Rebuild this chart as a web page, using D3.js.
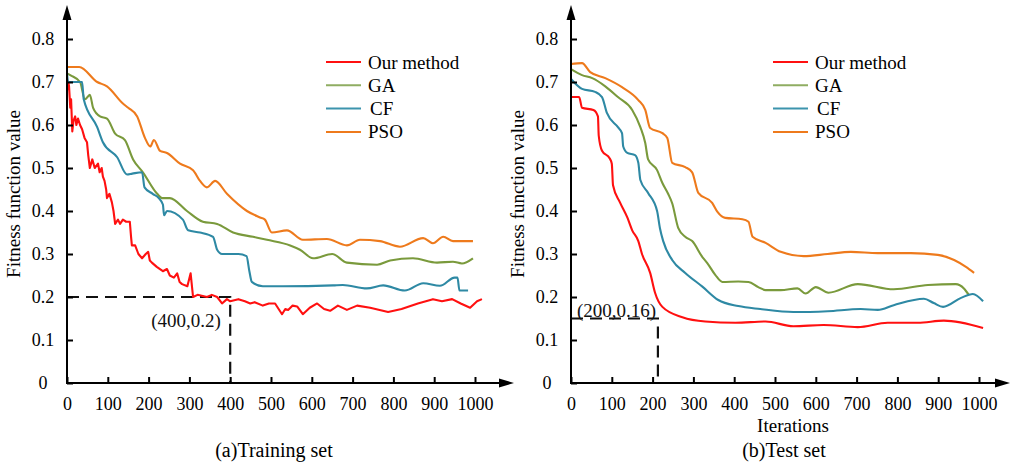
<!DOCTYPE html>
<html><head><meta charset="utf-8">
<script src="https://cdn.jsdelivr.net/npm/d3@7"></script>
<style>
html,body{margin:0;padding:0;background:#fff;}
svg{display:block;font-family:"Liberation Serif","Times New Roman",serif;}
</style></head>
<body>
<svg id="chart" width="1011" height="462"></svg>
<script>
// ---------- DATA ----------
const seriesNames = ["Our method", "GA", "CF", "PSO"];
const xTickValues = [0,100,200,300,400,500,600,700,800,900,1000];
const yTickValues = [0,0.1,0.2,0.3,0.4,0.5,0.6,0.7,0.8];
const yTickLabels = ["0","0.1","0.2","0.3","0.4","0.5","0.6","0.7","0.8"];

const trainOurMethod = [[0,0.68],[3,0.70],[5,0.69],[8,0.64],[10,0.66],[13,0.585],[16,0.61],[20,0.62],[23,0.6],[27,0.615],[32,0.6],[37,0.59],[43,0.57],[49,0.56],[52,0.53],[56,0.5],[62,0.52],[68,0.5],[76,0.51],[80,0.49],[85,0.5],[88,0.48],[92,0.47],[96,0.45],[98,0.43],[104,0.44],[110,0.42],[114,0.4],[118,0.37],[125,0.38],[130,0.37],[137,0.38],[145,0.375],[154,0.375],[157,0.34],[159,0.32],[167,0.32],[175,0.3],[184,0.29],[193,0.3],[199,0.305],[203,0.285],[208,0.28],[220,0.27],[235,0.26],[245,0.265],[252,0.25],[262,0.245],[270,0.255],[276,0.235],[282,0.23],[295,0.225],[303,0.255],[309,0.2],[320,0.205],[343,0.2],[355,0.205],[368,0.2],[380,0.185],[392,0.195],[400,0.19],[420,0.195],[436,0.19],[449,0.185],[460,0.188],[480,0.18],[495,0.185],[510,0.185],[527,0.16],[535,0.172],[542,0.17],[553,0.18],[564,0.178],[578,0.16],[595,0.175],[613,0.185],[630,0.172],[645,0.168],[664,0.18],[686,0.17],[711,0.18],[743,0.175],[787,0.165],[820,0.172],[860,0.185],[897,0.195],[919,0.19],[944,0.195],[965,0.185],[988,0.175],[1005,0.19],[1017,0.195]];
const trainGA = [[0,0.72],[10,0.715],[32,0.70],[44,0.66],[56,0.67],[64,0.64],[81,0.62],[98,0.615],[118,0.58],[142,0.565],[162,0.52],[186,0.49],[221,0.44],[233,0.43],[252,0.43],[294,0.40],[333,0.375],[368,0.37],[407,0.35],[456,0.34],[490,0.333],[547,0.32],[571,0.31],[603,0.29],[650,0.30],[686,0.28],[760,0.275],[792,0.285],[848,0.29],[907,0.28],[946,0.282],[968,0.278],[995,0.29]];
const trainCF = [[0,0.72],[3,0.70],[10,0.70],[37,0.70],[41,0.66],[74,0.595],[88,0.56],[123,0.525],[147,0.485],[160,0.487],[184,0.49],[190,0.455],[210,0.44],[225,0.43],[235,0.415],[238,0.39],[245,0.40],[284,0.38],[297,0.355],[326,0.35],[358,0.34],[368,0.31],[380,0.30],[420,0.30],[440,0.295],[447,0.26],[453,0.235],[480,0.225],[529,0.225],[652,0.227],[676,0.228],[735,0.22],[775,0.227],[828,0.215],[873,0.232],[914,0.226],[950,0.245],[957,0.245],[962,0.215],[983,0.215]];
const trainPSO = [[0,0.735],[30,0.735],[74,0.70],[98,0.69],[137,0.65],[150,0.64],[172,0.62],[191,0.57],[204,0.55],[213,0.565],[228,0.54],[245,0.535],[277,0.51],[309,0.495],[326,0.47],[343,0.455],[363,0.47],[392,0.44],[441,0.40],[473,0.385],[485,0.38],[502,0.35],[539,0.355],[578,0.333],[637,0.335],[686,0.32],[718,0.333],[767,0.33],[816,0.317],[873,0.337],[897,0.325],[922,0.34],[946,0.33],[995,0.33]];

const testOurMethod = [[0,0.665],[20,0.665],[27,0.64],[55,0.635],[66,0.62],[68,0.575],[76,0.54],[95,0.522],[100,0.51],[103,0.46],[120,0.42],[138,0.385],[150,0.355],[165,0.33],[174,0.3],[194,0.256],[206,0.21],[224,0.177],[273,0.153],[329,0.143],[403,0.14],[477,0.143],[545,0.132],[619,0.135],[703,0.13],[776,0.14],[850,0.14],[914,0.145],[1010,0.128]];
const testGA = [[0,0.73],[27,0.716],[52,0.709],[84,0.69],[115,0.665],[150,0.635],[170,0.595],[182,0.558],[189,0.52],[211,0.495],[224,0.465],[238,0.44],[248,0.418],[263,0.36],[280,0.34],[297,0.33],[322,0.293],[334,0.279],[354,0.251],[371,0.235],[410,0.236],[435,0.235],[459,0.223],[477,0.216],[514,0.216],[555,0.22],[575,0.208],[600,0.223],[631,0.21],[703,0.23],[791,0.218],[875,0.228],[943,0.23],[963,0.22],[975,0.205]];
const testCF = [[0,0.707],[27,0.684],[59,0.677],[76,0.665],[88,0.628],[115,0.595],[125,0.581],[128,0.55],[138,0.535],[157,0.53],[165,0.512],[170,0.472],[189,0.442],[211,0.40],[218,0.36],[226,0.33],[248,0.286],[280,0.256],[322,0.224],[361,0.193],[410,0.179],[464,0.172],[545,0.165],[629,0.167],[710,0.172],[752,0.17],[791,0.181],[865,0.196],[889,0.186],[912,0.177],[956,0.198],[985,0.207],[1010,0.19]];
const testPSO = [[0,0.742],[27,0.744],[47,0.723],[84,0.709],[125,0.688],[165,0.658],[182,0.635],[194,0.593],[224,0.581],[236,0.57],[248,0.512],[280,0.502],[297,0.49],[312,0.442],[346,0.419],[359,0.398],[378,0.384],[420,0.381],[435,0.375],[445,0.34],[477,0.326],[514,0.305],[570,0.295],[629,0.3],[686,0.305],[752,0.302],[833,0.302],[899,0.298],[939,0.286],[968,0.27],[988,0.256]];

const trainMarker = [400, 0.2];
const trainMarkerLabel = "(400,0.2)";
const testMarker = [213, 0.15];
const testMarkerLabel = "(200,0.16)";

const colors = ["#ff1010", "#7a9a3c", "#2e89a4", "#ee7a1c"];
const legendColors = ["#ff1010", "#8fad62", "#3c94ad", "#ee7a1c"];

// ---------- DRAW ----------
const svg = d3.select("#chart");
const FONT = 18;

function panel(cfg) {
  const x = d3.scaleLinear().domain([0, 1000]).range([cfg.x0, cfg.x0 + 408]);
  const y = d3.scaleLinear().domain([0, 0.8]).range([383, 39]);
  const g = svg.append("g");

  // annotation dashed lines
  g.append("path")
    .attr("d", `M${x(0)},${y(cfg.marker[1])}H${x(cfg.marker[0])}V${y(0)}`)
    .attr("fill", "none").attr("stroke", "#111").attr("stroke-width", 2.2)
    .attr("stroke-dasharray", "12,7");

  // series
  const line = d3.line().x(d => x(d[0])).y(d => y(d[1]));
  cfg.series.forEach((s, i) => {
    g.append("path").datum(s).attr("d", line.curve(cfg.curves[i]))
      .attr("fill", "none").attr("stroke", colors[i]).attr("stroke-width", 2.1)
      .attr("stroke-linejoin", "round");
  });

  // axes
  const xAxis = d3.axisBottom(x).tickValues(xTickValues).tickSizeInner(-6).tickSizeOuter(0).tickPadding(14)
    .tickFormat(d3.format("d"));
  const xa = g.append("g").attr("transform", `translate(0,${y(0)})`).call(xAxis);
  const yAxis = d3.axisLeft(y).tickValues(yTickValues).tickSizeInner(-6).tickSizeOuter(0)
    .tickFormat((d, i) => yTickLabels[i]);
  const ya = g.append("g").attr("transform", `translate(${x(0)},0)`).call(yAxis);
  [xa, ya].forEach(a => {
    a.attr("font-family", null).attr("font-size", null);
    a.select(".domain").remove();
    a.selectAll("line").attr("stroke", "#000").attr("stroke-width", 2);
    a.selectAll("text").attr("fill", "#000").style("font-size", FONT + "px")
      .style("font-family", '"Liberation Serif", serif');
  });
  ya.selectAll("text").attr("x", -24).attr("text-anchor", "middle").attr("dy", "0.32em");

  // axis lines with arrows
  const ax0 = x(0), ay0 = y(0);
  const xEnd = cfg.xArrow, yEnd = 5;
  g.append("line").attr("x1", ax0).attr("y1", ay0).attr("x2", xEnd - 12).attr("y2", ay0)
    .attr("stroke", "#000").attr("stroke-width", 2);
  g.append("line").attr("x1", ax0).attr("y1", ay0 + 1).attr("x2", ax0).attr("y2", yEnd + 12)
    .attr("stroke", "#000").attr("stroke-width", 2);
  g.append("path").attr("d", `M${xEnd},${ay0}L${xEnd - 15},${ay0 - 4.5}L${xEnd - 15},${ay0 + 4.5}Z`).attr("fill", "#000");
  g.append("path").attr("d", `M${ax0},${yEnd}L${ax0 - 4.5},${yEnd + 15}L${ax0 + 4.5},${yEnd + 15}Z`).attr("fill", "#000");

  // annotation label
  g.append("text").attr("x", cfg.labelPos[0]).attr("y", cfg.labelPos[1])
    .attr("text-anchor", cfg.labelAnchor)
    .style("font-size", "19px").attr("fill", "#111").text(cfg.markerLabel);

  // y title
  g.append("text").attr("transform", `translate(${cfg.x0 - 47},${194}) rotate(-90)`)
    .attr("text-anchor", "middle").style("font-size", "19px").text("Fitness function value");

  // legend
  const lg = g.append("g");
  seriesNames.forEach((n, i) => {
    const ly = 62 + i * 23.3;
    lg.append("line").attr("x1", cfg.legendX).attr("x2", cfg.legendX + 35).attr("y1", ly).attr("y2", ly)
      .attr("stroke", legendColors[i]).attr("stroke-width", 2);
    lg.append("text").attr("x", cfg.legendX + 42 + (i === 2 ? 2 : 0)).attr("y", ly + 6.5)
      .style("font-size", "19px").text(n);
  });

  // caption
  g.append("text").attr("x", cfg.captionX).attr("y", 457).attr("text-anchor", "middle")
    .style("font-size", "20px").text(cfg.caption);
  return {x, y, g};
}

const left = panel({
  x0: 67, xArrow: 514,
  series: [trainOurMethod, trainGA, trainCF, trainPSO],
  curves: [d3.curveLinear, d3.curveMonotoneX, d3.curveMonotoneX, d3.curveMonotoneX],
  marker: trainMarker, markerLabel: trainMarkerLabel,
  labelPos: [186, 327], labelAnchor: "middle",
  legendX: 326, caption: "(a)Training set", captionX: 274
});
const right = panel({
  x0: 571, xArrow: 1010,
  series: [testOurMethod, testGA, testCF, testPSO],
  curves: [d3.curveMonotoneX, d3.curveMonotoneX, d3.curveMonotoneX, d3.curveMonotoneX],
  marker: testMarker, markerLabel: testMarkerLabel,
  labelPos: [577, 317], labelAnchor: "start",
  legendX: 773, caption: "(b)Test set", captionX: 784
});
right.g.append("text").attr("x", 793).attr("y", 432).attr("text-anchor", "middle")
  .style("font-size", "19px").text("Iterations");
</script>
</body></html>
